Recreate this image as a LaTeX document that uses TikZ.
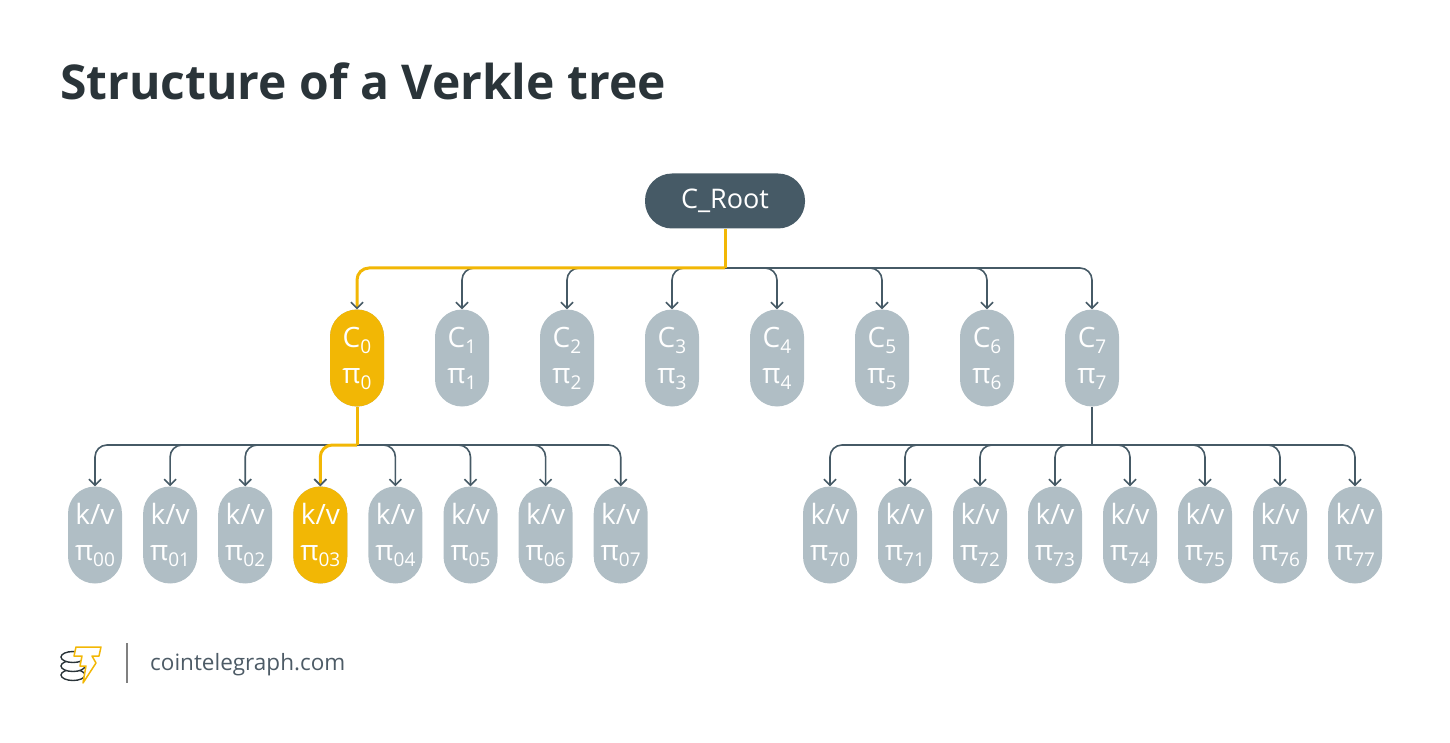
\documentclass[tikz,border=0pt]{standalone}
\usepackage{fontspec}
\setmainfont{Open Sans}
\usetikzlibrary{arrows.meta}
\definecolor{dark}{HTML}{465A66}
\definecolor{titlec}{HTML}{2A3439}
\definecolor{grayn}{HTML}{B0BEC5}
\definecolor{gold}{HTML}{F2B705}
\definecolor{logoc}{HTML}{4D5B66}
\tikzset{
  pill/.style={fill=grayn,text=white,rounded corners=27pt,minimum width=54pt,minimum height=97pt,inner sep=0pt,align=center,font=\fontsize{28}{36}\selectfont},
  hot/.style={fill=gold},
  link/.style={draw=dark,line width=1.6pt},
  glink/.style={draw=gold,line width=3pt},
  arr/.style={-{Straight Barb[length=6pt,width=12pt,line width=1.6pt]}},
}
\newcommand{\sbs}[1]{\raisebox{-6pt}{\fontsize{19}{20}\selectfont #1}}
\begin{document}
\begin{tikzpicture}[x=1pt,y=-1pt]
\useasboundingbox (0,0) rectangle (1450,743);
\node[anchor=base west,inner sep=0,text=titlec,font=\fontsize{48}{58}\bfseries\selectfont] (title) at (60,100) {Structure of a Verkle tree};
\node[fill=dark,text=white,rounded corners=27pt,minimum width=160pt,minimum height=55pt,font=\fontsize{27}{32}\selectfont] (r) at (725,201) {\raisebox{-2pt}{C\_Root}};
% level 1
\foreach \i in {0,...,7}{
  \node[pill] (c\i) at (357+105*\i,358) {C\sbs{\i}\\π\sbs{\i}};
}
\node[pill,hot] at (c0) {C\sbs{0}\\π\sbs{0}};
% level 2 left
\foreach \i in {0,...,7}{
  \node[pill] (l\i) at (95+75.1*\i,535) {k/v\\π\sbs{0\i}};
}
\node[pill,hot] at (l3) {k/v\\π\sbs{03}};
\foreach \i in {0,...,7}{
  \node[pill] (m\i) at (830+75*\i,535) {k/v\\π\sbs{7\i}};
}
% connectors
\draw[link] (r.south) -- (r.south |- 0,268) coordinate (rb);
\foreach \i in {1,...,7}{\draw[link,arr,rounded corners=12pt] (rb) -| (c\i.north);}
\draw[link] (c0.south) -- (c0.south |- 0,445) coordinate (c0b);
\foreach \i in {0,...,7}{\draw[link,arr,rounded corners=12pt] (c0b) -| (l\i.north);}
\draw[link] (c7.south) -- (c7.south |- 0,445) coordinate (c7b);
\foreach \i in {0,...,7}{\draw[link,arr,rounded corners=12pt] (c7b) -| (m\i.north);}
\draw[glink] (r.south) -- (rb);
\draw[glink,-{Straight Barb[length=6pt,width=12pt,line width=1.6pt,color=dark]},rounded corners=12pt] (rb) -| (c0.north);
\draw[glink] (c0.south) -- (c0b);
\draw[glink,-{Straight Barb[length=6pt,width=12pt,line width=1.6pt,color=dark]},rounded corners=12pt] (c0b) -| (l3.north);
% logo
\begin{scope}[line width=1.4pt,draw=titlec]
\foreach \yy in {675,666,657}{\draw[fill=white] (73,\yy) ellipse (12 and 5.5);}
\end{scope}
\draw[gold,line width=1.5pt,fill=white,line join=round] (76,647) -- (101,647) -- (99,656) -- (92,656) -- (96,663) -- (83,683) -- (86,666) -- (80,666) -- (82,656) -- (74,656) -- cycle;
\draw[gray,line width=1.5pt] (127,643) -- (127,683);
\node[anchor=base west,inner sep=0,text=logoc,font=\fontsize{22.5}{26}\selectfont] (logo) at (150,670) {cointelegraph.com};
\end{tikzpicture}
\end{document}
